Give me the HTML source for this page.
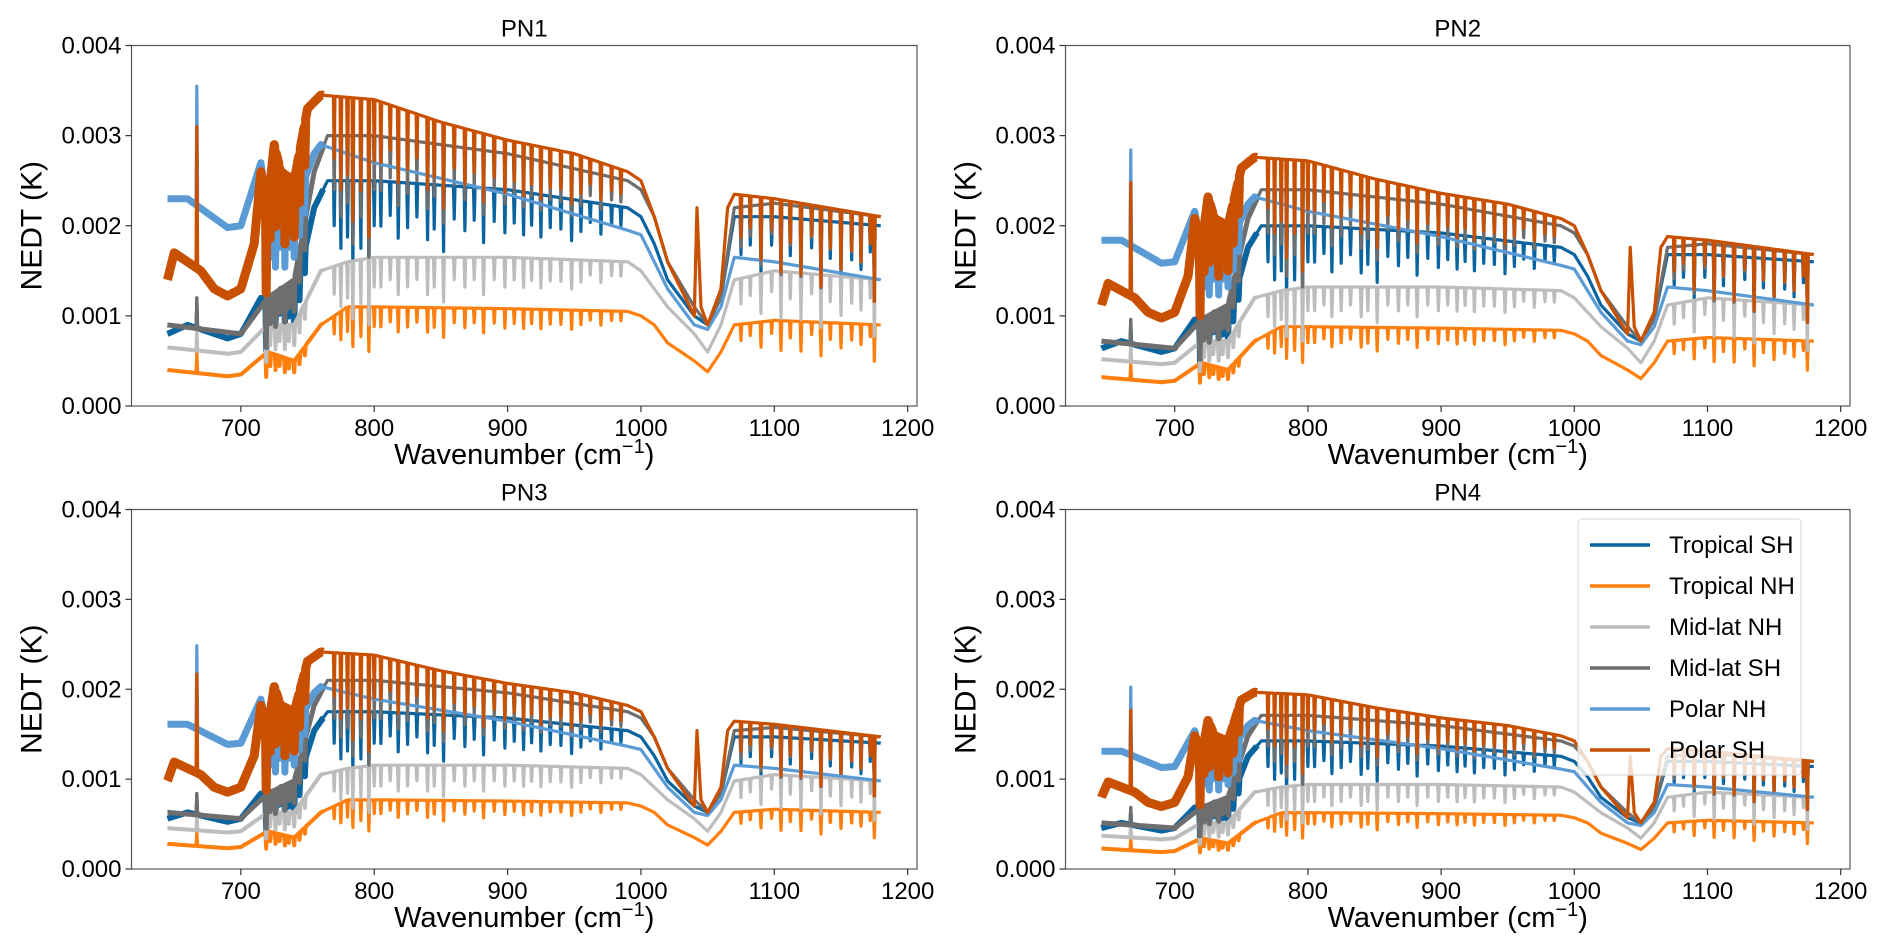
<!DOCTYPE html>
<html><head><meta charset="utf-8">
<style>
html,body{margin:0;padding:0;background:#fff;}
svg{display:block;font-family:"Liberation Sans",sans-serif;}
</style></head>
<body>
<svg id="fig" width="1892" height="952" viewBox="0 0 1892 952"></svg>
<script>
// ---- data ----
const panelTitles = ["PN1","PN2","PN3","PN4"];
const panelScale = [1.0, 0.8, 0.7, 0.57];
const seriesNames = ["Tropical SH","Tropical NH","Mid-lat NH","Mid-lat SH","Polar NH","Polar SH"];
const seriesColors = ["#0a64a0","#ff7f0e","#bdbdbd","#6e6e6e","#5b9bd5","#c85000"];
const xTicks = [700,800,900,1000,1100,1200];
const yTicks = [0.000,0.001,0.002,0.003,0.004];
const yTickLabels = ["0.000","0.001","0.002","0.003","0.004"];

const tropSH_x = [645,660,690,700,715,720,730,740,755,765,800,900,990,1000,1010,1020,1040,1050,1060,1070,1100,1180];
const tropSH_y = [0.0008,0.0009,0.00075,0.0008,0.0012,0.0011,0.0013,0.0012,0.0022,0.0025,0.0025,0.0024,0.0022,0.0021,0.0018,0.0014,0.0010,0.0009,0.0012,0.0021,0.0021,0.0020];
const tropNH_x = [645,690,700,720,740,760,780,800,900,990,1000,1010,1020,1040,1050,1060,1070,1100,1180];
const tropNH_y = [0.0004,0.00033,0.00035,0.0006,0.0005,0.0009,0.0011,0.0011,0.00108,0.00105,0.0010,0.0009,0.0007,0.0005,0.00038,0.0006,0.0009,0.00095,0.0009];
const midNH_x = [645,690,700,720,740,760,780,800,900,990,1000,1020,1040,1050,1060,1070,1100,1180];
const midNH_y = [0.00065,0.00058,0.0006,0.0009,0.0009,0.0015,0.0016,0.00165,0.00165,0.0016,0.0015,0.0011,0.0008,0.0006,0.0009,0.0014,0.0015,0.0014];
const midSH_x = [645,700,720,740,755,765,800,900,990,1000,1010,1020,1040,1050,1060,1070,1100,1180];
const midSH_y = [0.0009,0.0008,0.0012,0.0014,0.0026,0.0030,0.0030,0.0028,0.0025,0.0024,0.0021,0.0016,0.0011,0.0009,0.0012,0.0022,0.00225,0.0021];
const polNH_x = [645,660,690,700,715,720,740,755,760,800,900,990,1000,1020,1030,1040,1050,1060,1070,1100,1180];
const polNH_y = [0.0023,0.0023,0.00198,0.0020,0.0027,0.0022,0.0022,0.0028,0.0029,0.0027,0.00235,0.00195,0.0019,0.0013,0.0011,0.0009,0.00085,0.0011,0.00165,0.0016,0.0014];
const polSH_x = [645,650,660,670,680,690,700,710,715,720,725,730,740,750,760,800,850,900,950,990,1000,1010,1020,1030,1040,1042,1045,1050,1060,1065,1070,1100,1180];
const polSH_y = [0.0014,0.0017,0.0016,0.0015,0.0013,0.00122,0.0013,0.0018,0.0026,0.0022,0.0029,0.0026,0.0025,0.0033,0.00345,0.0034,0.00315,0.00295,0.0028,0.0026,0.0025,0.0021,0.0016,0.0013,0.0010,0.0022,0.0011,0.0009,0.0013,0.0022,0.00235,0.0023,0.0021];
const seriesX = [tropSH_x,tropNH_x,midNH_x,midSH_x,polNH_x,polSH_x];
const seriesY = [tropSH_y,tropNH_y,midNH_y,midSH_y,polNH_y,polSH_y];
const seriesHasLines = [true,true,true,true,false,true];

const spikeX = [667];
const spikeVal = [0.0012,0.0006,0.0009,0.0012,0.00355,0.0031];

const lineX = [719,722,726,729,733,736,740,744,748,770,775,780,784,790,796,800,805,812,818,825,832,840,845,852,860,868,875,882,890,898,905,912,918,925,932,940,948,955,962,970,978,985,1075,1082,1090,1098,1105,1112,1120,1128,1135,1142,1150,1158,1165,1172,1175];
const lineDepth = [0.45,0.25,0.3,0.2,0.3,0.2,0.25,0.2,0.15,0.2,0.3,0.25,0.4,0.3,0.45,0.2,0.2,0.15,0.25,0.2,0.15,0.25,0.2,0.3,0.15,0.2,0.15,0.25,0.15,0.2,0.15,0.2,0.15,0.2,0.15,0.15,0.2,0.15,0.1,0.15,0.1,0.1,0.2,0.15,0.3,0.15,0.35,0.2,0.35,0.15,0.4,0.2,0.3,0.2,0.25,0.15,0.45];

// ---- layout ----
const panels = [
  {l:131.5,r:917,t:45.5,b:406},
  {l:1065.5,r:1850,t:45.5,b:406},
  {l:131.5,r:917,t:509.5,b:869},
  {l:1065.5,r:1850,t:509.5,b:869}
];
const noisyWidth = [6,4,4,5,7,9];
const XMIN=618, XMAX=1207, YMIN=0, YMAX=0.004;
const NS="http://www.w3.org/2000/svg";
const svg=document.getElementById('fig');
function mk(tag,attrs,parent){const e=document.createElementNS(NS,tag);for(const k in attrs)e.setAttribute(k,attrs[k]);(parent||svg).appendChild(e);return e;}
function interp(xs,ys,x){if(x<=xs[0])return ys[0];for(let i=1;i<xs.length;i++){if(x<=xs[i]){const f=(x-xs[i-1])/(xs[i]-xs[i-1]);return ys[i-1]+f*(ys[i]-ys[i-1]);}}return ys[ys.length-1];}
function value(si,x,withSpike){
  let v=interp(seriesX[si],seriesY[si],x);
  if(seriesHasLines[si]||x<760){
    let d=0;
    for(let k=0;k<lineX.length;k++){const dx=Math.abs(x-lineX[k]);if(dx<0.6)d+=lineDepth[k]*(1-dx/0.6);}
    v*=Math.max(0,1-d);
  }
  if(withSpike){
    for(let k=0;k<spikeX.length;k++){const dx=Math.abs(x-spikeX[k]);if(dx<0.6){v=v+(spikeVal[si]-v)*(1-dx/0.6);}}
  }
  return v;
}

panels.forEach((p,pi)=>{
  const g=mk('g',{});
  
  
  const sx=x=>p.l+(x-XMIN)/(XMAX-XMIN)*(p.r-p.l);
  const sy=y=>p.b-(y-YMIN)/(YMAX-YMIN)*(p.b-p.t);
  const clipId='clip'+pi;
  const cp=mk('clipPath',{id:clipId},g);
  mk('rect',{x:p.l,y:p.t,width:p.r-p.l,height:p.b-p.t},cp);
  const sc=panelScale[pi];
  for(let si=0;si<seriesNames.length;si++){
    let d='', dn='';
    for(let x=645;x<=1180;x+=0.2){
      const v=value(si,x,true)*sc;
      d+=(x===645?'M':'L')+sx(x).toFixed(1)+','+sy(v).toFixed(1);
      if(x<=762){
        const vb=value(si,x,false)*sc;
        dn+=(x===645?'M':'L')+sx(x).toFixed(1)+','+sy(vb).toFixed(1);
      }
    }
    const band=mk('path',{d:dn,fill:'none',stroke:seriesColors[si],'stroke-width':noisyWidth[si],'stroke-linejoin':'round','clip-path':'url(#'+clipId+')'},g);
    
    
    const path=mk('path',{d:d,fill:'none',stroke:seriesColors[si],'stroke-width':3.2,'stroke-linejoin':'round','clip-path':'url(#'+clipId+')'},g);
    
    
  }
  const frame=mk('rect',{x:p.l,y:p.t,width:p.r-p.l,height:p.b-p.t,fill:'none',stroke:'#555','stroke-width':1.2},g);
  
  
  xTicks.forEach(t=>{
    const X=sx(t);
    mk('line',{x1:X,x2:X,y1:p.b,y2:p.b+6,stroke:'#333','stroke-width':1.2},g);
    const tx=mk('text',{x:X,y:p.b+30,'text-anchor':'middle','font-size':24,fill:'#000'},g);
    tx.textContent=t;
    
    
  });
  yTicks.forEach((t,i)=>{
    const Y=sy(t);
    mk('line',{x1:p.l-6,x2:p.l,y1:Y,y2:Y,stroke:'#333','stroke-width':1.2},g);
    const ty=mk('text',{x:p.l-10,y:Y+8,'text-anchor':'end','font-size':24,fill:'#000'},g);
    ty.textContent=yTickLabels[i];
    
    
  });
  const title=mk('text',{x:(p.l+p.r)/2,y:p.t-9,'text-anchor':'middle','font-size':24,fill:'#000'},g);
  title.textContent=panelTitles[pi];
  
  
  const xl=mk('text',{x:(p.l+p.r)/2,y:p.b+58,'text-anchor':'middle','font-size':29,fill:'#000'},g);
  xl.innerHTML='Wavenumber (cm<tspan dy="-11" font-size="20">−1</tspan><tspan dy="11">)</tspan>';
  
  
  const yc=(p.t+p.b)/2, ylx=p.l-90;
  const yl=mk('text',{x:ylx,y:yc,'text-anchor':'middle','font-size':30,fill:'#000',transform:'rotate(-90 '+ylx+' '+yc+')'},g);
  yl.textContent='NEDT (K)';
  
  
});

// legend in PN4
const lg=mk('g',{});


mk('rect',{x:1578,y:519,width:223,height:256,rx:4,fill:'rgba(255,255,255,0.8)',stroke:'#ddd','stroke-width':1.2},lg);
seriesNames.forEach((n,i)=>{
  const y=545+i*41;
  const ln=mk('line',{x1:1590,x2:1650,y1:y,y2:y,stroke:seriesColors[i],'stroke-width':3.5},lg);
  
  
  const t=mk('text',{x:1669,y:y+8,'font-size':24,fill:'#000'},lg);
  t.textContent=n;
  
  
});
</script>
</body></html>
